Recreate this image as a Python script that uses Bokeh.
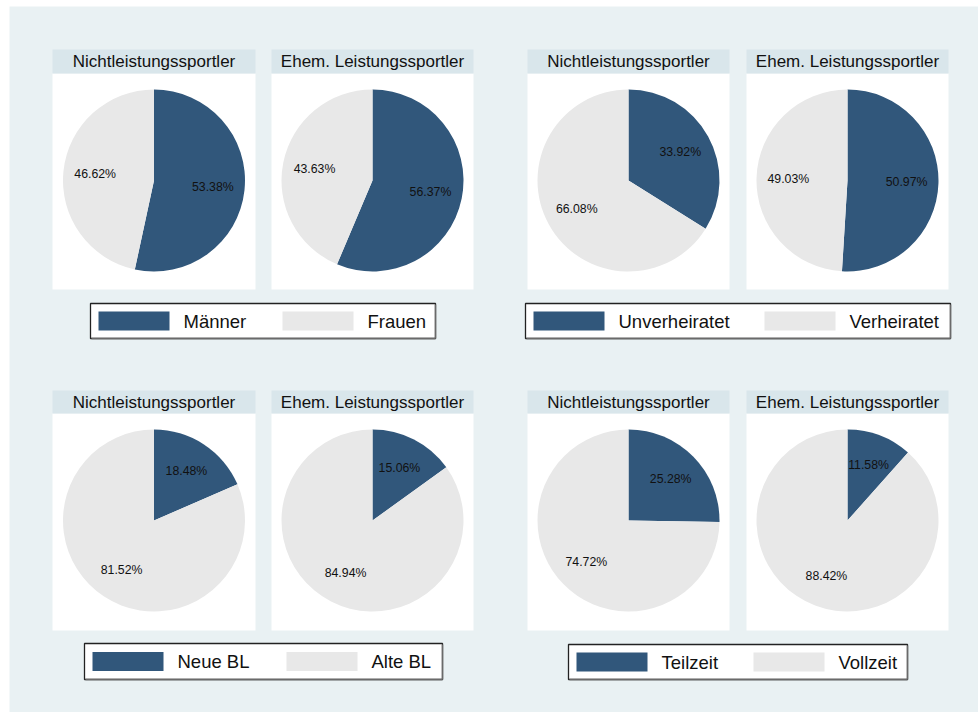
import math
from bokeh.plotting import figure
from bokeh.models import Range1d, ColumnDataSource
from bokeh.core.properties import value
from bokeh.embed import file_html
from bokeh.resources import INLINE

# ---------------- data ----------------
groups = ["Nichtleistungssportler", "Ehem. Leistungssportler"]

cats_sex = ["Männer", "Frauen"]
sex_nls = [53.38, 46.62]
sex_els = [56.37, 43.63]

cats_fam = ["Unverheiratet", "Verheiratet"]
fam_nls = [33.92, 66.08]
fam_els = [50.97, 49.03]

cats_bl = ["Neue BL", "Alte BL"]
bl_nls = [18.48, 81.52]
bl_els = [15.06, 84.94]

cats_work = ["Teilzeit", "Vollzeit"]
work_nls = [25.28, 74.72]
work_els = [11.58, 88.42]

panels = [
    (cats_sex, sex_nls, sex_els),
    (cats_fam, fam_nls, fam_els),
    (cats_bl, bl_nls, bl_els),
    (cats_work, work_nls, work_els),
]

# ---------------- style ----------------
BG = "#e9f1f3"
STRIP = "#d9e6eb"
DARK = "#31577b"
LIGHT = "#e8e8e8"
TXT = "#111111"
FONT = "Liberation Sans"

W, H = 978, 712


def Y(v):
    return H - v


p = figure(width=W, height=H, x_range=Range1d(0, W), y_range=Range1d(0, H),
           output_backend="svg", toolbar_location=None, min_border=0)
p.axis.visible = False
p.grid.visible = False
p.outline_line_color = None
p.background_fill_color = "white"
p.border_fill_color = "white"

# graph region background
p.quad(left=[9], right=[W], top=[Y(6)], bottom=[Y(H)], fill_color=BG, line_color=None)

# layout (reference pixel coordinates)
col_x = [(52, 255), (271, 473), (527, 729), (746, 948)]
rows = [(49, 73, 289, 180), (390, 413, 630, 520)]   # strip top, strip bottom, area bottom, pie centre y
R = 91
LABEL_D = 0.65 * R

legend_boxes = [
    (90, 435, 303, 338, 282),
    (525, 950, 303, 338, 764),
    (84, 442, 643, 679, 286),
    (568, 907, 644, 679, 753),
]

for gi, (cats, nls, els) in enumerate(panels):
    st, sb, ab, cy_ref = rows[gi // 2]
    for j, vals in enumerate([nls, els]):
        x0, x1 = col_x[(gi % 2) * 2 + j]
        cx = (x0 + x1) / 2.0
        cy = Y(cy_ref)
        # panel background and title strip
        p.quad(left=[x0], right=[x1], top=[Y(sb)], bottom=[Y(ab)], fill_color="white", line_color=None)
        p.quad(left=[x0], right=[x1], top=[Y(st)], bottom=[Y(sb)], fill_color=STRIP, line_color=None)
        p.text(x=[cx], y=[Y((st + sb) / 2.0)], text=[groups[j]], text_align="center",
               text_baseline="middle", text_font=value(FONT), text_font_size="17px", text_color=TXT)
        # pie slices: start at 12 o'clock, clockwise
        total = float(sum(vals))
        starts, ends, lx, ly, labs = [], [], [], [], []
        cum = 0.0
        for v in vals:
            a_start = math.pi / 2 - 2 * math.pi * (cum + v) / total
            a_end = math.pi / 2 - 2 * math.pi * cum / total
            mid = (a_start + a_end) / 2
            starts.append(a_start)
            ends.append(a_end)
            lx.append(cx + LABEL_D * math.cos(mid))
            ly.append(cy + LABEL_D * math.sin(mid))
            labs.append(f"{v:.2f}%")
            cum += v
        src = ColumnDataSource(dict(x=[cx, cx], y=[cy, cy], s=starts, e=ends,
                                    c=[DARK, LIGHT], lx=lx, ly=ly, t=labs))
        p.wedge(x="x", y="y", radius=R, start_angle="s", end_angle="e", direction="anticlock",
                fill_color="c", line_color=None, source=src)
        p.text(x="lx", y="ly", text="t", text_align="center", text_baseline="middle",
               text_font=value(FONT), text_font_size="12.3px", text_color=TXT, source=src)

    # legend
    bx0, bx1, by0, by1, sw2 = legend_boxes[gi]
    p.quad(left=[bx0], right=[bx1], top=[Y(by0)], bottom=[Y(by1)], fill_color="white",
           line_color="#222222", line_width=1.3)
    p.segment(x0=[bx0 + 1, bx1], y0=[Y(by1), Y(by0) - 1], x1=[bx1, bx1], y1=[Y(by1), Y(by1)],
              line_color="#6a6a6a", line_width=1.5)
    ymid = (by0 + by1) / 2.0
    sw_x = [bx0 + 8, sw2]
    for k in range(2):
        p.quad(left=[sw_x[k]], right=[sw_x[k] + 71], top=[Y(ymid - 9.5)], bottom=[Y(ymid + 9.5)],
               fill_color=[DARK, LIGHT][k], line_color=None)
        p.text(x=[sw_x[k] + 85], y=[Y(ymid)], text=[cats[k]], text_align="left",
               text_baseline="middle", text_font=value(FONT), text_font_size="18.5px",
               text_color=TXT)

open("out.html", "w").write(file_html(p, INLINE))
